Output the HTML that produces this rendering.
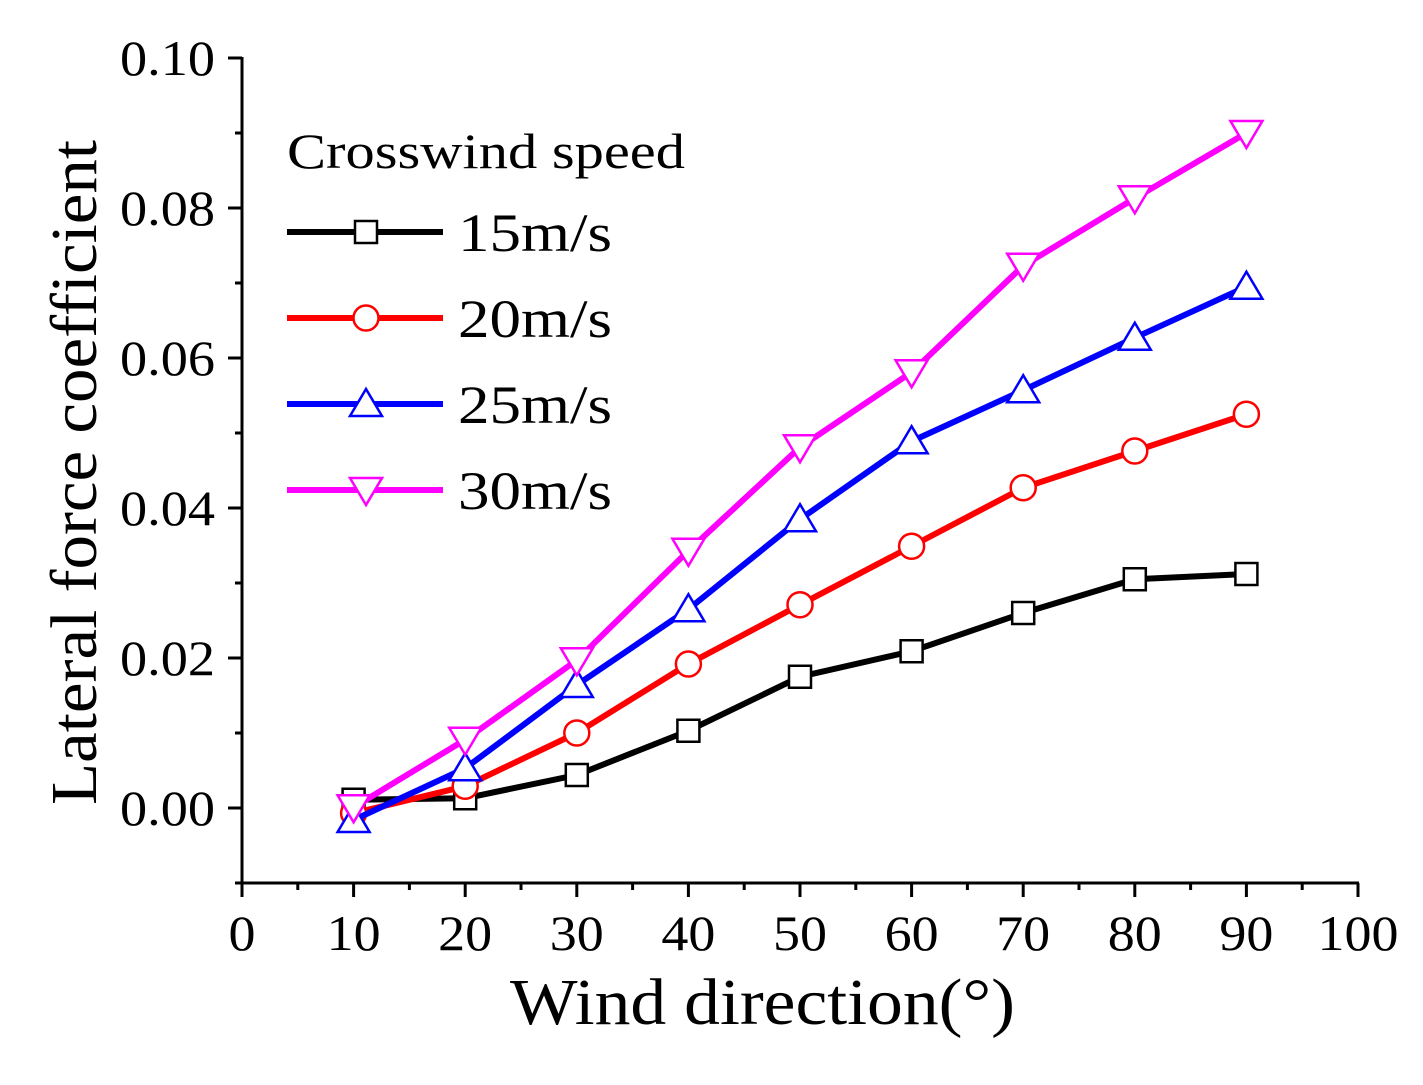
<!DOCTYPE html>
<html><head><meta charset="utf-8"><style>
body{margin:0;background:#fff}
text{font-family:"Liberation Serif",serif;fill:#000}
</style></head><body>
<svg id="chart" width="1423" height="1080" xmlns="http://www.w3.org/2000/svg"></svg>
<script>
const categories=[10,20,30,40,50,60,70,80,90];
const s15=[0.0011,0.0013,0.0044,0.0103,0.0175,0.0209,0.026,0.0305,0.0312];
const s20=[-0.0007,0.0029,0.0100,0.0192,0.0271,0.0349,0.0427,0.0476,0.0525];
const s25=[-0.0016,0.0053,0.0164,0.0265,0.0385,0.0489,0.0557,0.0627,0.0695];
const s30=[0.0001,0.0091,0.0197,0.0343,0.0481,0.0581,0.0723,0.0813,0.0900];
const seriesNames=["15m/s","20m/s","25m/s","30m/s"];
const xTicks=[0,10,20,30,40,50,60,70,80,90,100];
const yTicks=[0,0.02,0.04,0.06,0.08,0.10];
const yTickLabels=["0.00","0.02","0.04","0.06","0.08","0.10"];

const NS="http://www.w3.org/2000/svg";
const svg=document.getElementById('chart');
const X=v=>242+v*11.16;
const Y=v=>808-v*7500;
function mk(tag,attrs,parent){const e=document.createElementNS(NS,tag);for(const k in attrs)e.setAttribute(k,attrs[k]);(parent||svg).appendChild(e);return e;}

const axes=mk('g',{});


mk('line',{x1:242,y1:Y(0.1)-1,x2:242,y2:884,stroke:'#000','stroke-width':3},axes);
mk('line',{x1:241,y1:883,x2:X(100)+1,y2:883,stroke:'#000','stroke-width':3},axes);
for(let v=-0.01;v<=0.1001;v+=0.01){
  const major=Math.abs(Math.round(v*100)%2)===0;
  mk('line',{x1:242,y1:Y(v),x2:major?228:235,y2:Y(v),stroke:'#000','stroke-width':3},axes);
}
yTicks.forEach((v,i)=>{
  const t=mk('text',{x:215,y:Y(v)+17,'text-anchor':'end','font-size':50,textLength:95,lengthAdjust:'spacingAndGlyphs'},axes);
  t.textContent=yTickLabels[i];
  
  
});
for(let v=0;v<=100;v+=5){
  const major=v%10===0;
  mk('line',{x1:X(v),y1:883,x2:X(v),y2:major?897:890,stroke:'#000','stroke-width':3},axes);
}
xTicks.forEach(v=>{
  const s=String(v);
  const t=mk('text',{x:X(v),y:950,'text-anchor':'middle','font-size':50,textLength:s.length*27,lengthAdjust:'spacingAndGlyphs'},axes);
  t.textContent=s;
  
  
});
const xt=mk('text',{x:510,y:1024,'font-size':66,textLength:505,lengthAdjust:'spacingAndGlyphs'});
xt.textContent='Wind direction(°)';


const yt=mk('text',{x:96,y:805,'font-size':66,textLength:665,lengthAdjust:'spacingAndGlyphs',transform:'rotate(-90 96 805)'});
yt.textContent='Lateral force coefficient';



const colors=['#000000','#ff0000','#0000ff','#ff00ff'];
const data=[s15,s20,s25,s30];
function marker(g,i,cx,cy){
  const c=colors[i];
  const a={fill:'#fff',stroke:c,'stroke-width':2.5};
  if(i===0) return mk('rect',Object.assign({x:cx-11,y:cy-11,width:22,height:22},a),g);
  if(i===1) return mk('circle',Object.assign({cx:cx,cy:cy,r:12.5},a),g);
  if(i===2) return mk('polygon',Object.assign({points:`${cx},${cy-15} ${cx-16},${cy+12} ${cx+16},${cy+12}`},a),g);
  return mk('polygon',Object.assign({points:`${cx},${cy+15} ${cx-16},${cy-12} ${cx+16},${cy-12}`},a),g);
}
data.forEach((s,i)=>{
  const g=mk('g',{});
  
  
  mk('polyline',{points:s.map((v,j)=>X(categories[j])+','+Y(v)).join(' '),fill:'none',stroke:colors[i],'stroke-width':6},g);
  s.forEach((v,j)=>{
    const m=marker(g,i,X(categories[j]),Y(v));
    
    
  });
});

const lg=mk('g',{});


const lt=mk('text',{x:287,y:168,'font-size':50,textLength:398,lengthAdjust:'spacingAndGlyphs'},lg);
lt.textContent='Crosswind speed';


seriesNames.forEach((n,i)=>{
  const y=232+i*86;
  const e=mk('g',{},lg);
  
  
  mk('line',{x1:287,y1:y,x2:443,y2:y,stroke:colors[i],'stroke-width':6},e);
  marker(e,i,366,y);
  const t=mk('text',{x:458,y:y+19,'font-size':54,textLength:154,lengthAdjust:'spacingAndGlyphs'},e);
  t.textContent=n;
});
</script>
</body></html>
